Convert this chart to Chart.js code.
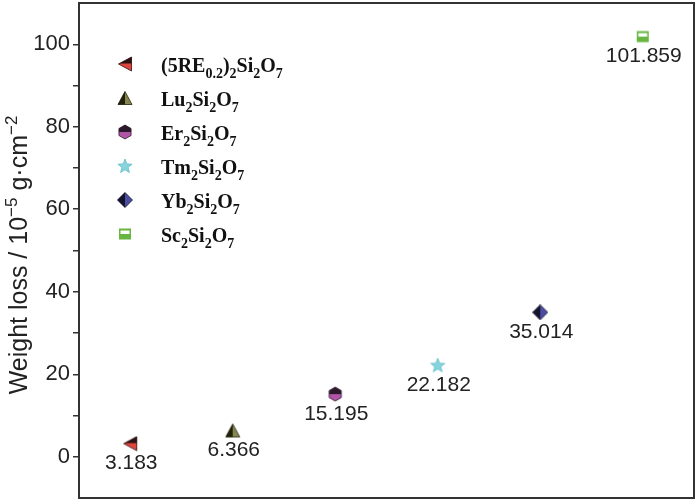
<!DOCTYPE html>
<html>
<head>
<meta charset="utf-8">
<script src="https://cdn.jsdelivr.net/npm/chart.js@4"></script>
<style>
    body { margin: 0; background: #fff; }
    canvas { display: block; }
</style>
</head>
<body>
<canvas id="lossChart" width="700" height="504"></canvas>
<script>
// Weight loss of rare-earth disilicates

const compounds = ['(5RE_{0.2})_2Si_2O_7', 'Lu_2Si_2O_7', 'Er_2Si_2O_7', 'Tm_2Si_2O_7', 'Yb_2Si_2O_7', 'Sc_2Si_2O_7'];
const positions = [1, 2, 3, 4, 5, 6];
const weightLoss = [3.183, 6.366, 15.195, 22.182, 35.014, 101.859];
const valueLabels = ['3.183', '6.366', '15.195', '22.182', '35.014', '101.859'];
const yTicksLabelled = [0, 20, 40, 60, 80, 100];
const yTitle = 'Weight loss / 10^{\u22125} g\u00b7cm^{\u22122}';

const SANS = 'Arial, "Liberation Sans", sans-serif';
const SERIF = '"Times New Roman", "Liberation Serif", serif';

// small canvases used as point styles
function makeIcon(draw) {
    const c = document.createElement('canvas');
    c.width = 16;
    c.height = 16;
    const g = c.getContext('2d');
    draw(g);
    return c;
}

function splitFill(g, path, dark, light, clipRect) {
    path(g);
    g.fillStyle = light;
    g.fill();
    g.save();
    path(g);
    g.clip();
    g.fillStyle = dark;
    g.fillRect(clipRect[0], clipRect[1], clipRect[2], clipRect[3]);
    g.restore();
    path(g);
    g.strokeStyle = dark;
    g.lineWidth = 0.8;
    g.stroke();
}

const icons = [
    makeIcon(g => splitFill(g, c => { c.beginPath(); c.moveTo(1.5, 8); c.lineTo(14.5, 1); c.lineTo(14.5, 15); c.closePath(); },
        '#2a1212', '#e0443c', [0, 0, 16, 7.5])),
    makeIcon(g => splitFill(g, c => { c.beginPath(); c.moveTo(8, 1.5); c.lineTo(15, 14.5); c.lineTo(1, 14.5); c.closePath(); },
        '#22220c', '#868650', [0, 0, 8, 16])),
    makeIcon(g => splitFill(g, c => {
        c.beginPath();
        for (let k = 0; k < 6; k++) {
            const a = Math.PI / 6 + k * Math.PI / 3;
            c.lineTo(8 + 7 * Math.cos(a), 8 + 7 * Math.sin(a));
        }
        c.closePath();
    }, '#2c1a2c', '#b055a8', [0, 0, 16, 8])),
    makeIcon(g => {
        g.beginPath();
        for (let k = 0; k < 10; k++) {
            const r = k % 2 === 0 ? 7.5 : 3.2;
            const a = -Math.PI / 2 + k * Math.PI / 5;
            g.lineTo(8 + r * Math.cos(a), 8.5 + r * Math.sin(a));
        }
        g.closePath();
        g.fillStyle = '#86d4dc';
        g.fill();
        g.strokeStyle = '#62bccb';
        g.lineWidth = 0.8;
        g.stroke();
    }),
    makeIcon(g => splitFill(g, c => { c.beginPath(); c.moveTo(8, 0.5); c.lineTo(15.5, 8); c.lineTo(8, 15.5); c.lineTo(0.5, 8); c.closePath(); },
        '#14142c', '#4c4ca0', [0, 0, 8, 16])),
    makeIcon(g => {
        g.fillStyle = '#66b640';
        g.fillRect(2, 2.5, 12, 11);
        g.fillStyle = '#ffffff';
        g.fillRect(3.5, 4.5, 9, 3.5);
    })
];

// rich text: _x or _{..} subscript, ^x or ^{..} superscript
function parseRich(text) {
    const parts = [];
    const re = /([_^])(\{([^}]*)\}|(.))/g;
    let last = 0, m;
    while ((m = re.exec(text)) !== null) {
        if (m.index > last) parts.push({ t: text.slice(last, m.index), s: 0 });
        parts.push({ t: m[3] !== undefined ? m[3] : m[4], s: m[1] === '_' ? 1 : -1 });
        last = re.lastIndex;
    }
    if (last < text.length) parts.push({ t: text.slice(last), s: 0 });
    return parts;
}

function richWidth(ctx, parts, font, size, k) {
    let w = 0;
    parts.forEach(p => {
        ctx.font = font.replace('{s}', p.s ? Math.round(size * k) : size);
        w += ctx.measureText(p.t).width;
    });
    return w;
}

function drawRich(ctx, parts, x, y, font, size, k) {
    let cx = x;
    parts.forEach(p => {
        ctx.font = font.replace('{s}', p.s ? Math.round(size * k) : size);
        const dy = p.s === 1 ? size * 0.3 : (p.s === -1 ? -size * 0.42 : 0);
        ctx.fillText(p.t, cx, y + dy);
        cx += ctx.measureText(p.t).width;
    });
}

const decorPlugin = {
    id: 'decor',
    afterDatasetsDraw(chart) {
        const ctx = chart.ctx;
        const area = chart.chartArea;

        // value labels under the points
        ctx.save();
        ctx.fillStyle = '#222';
        ctx.font = '21px ' + SANS;
        ctx.textAlign = 'center';
        ctx.textBaseline = 'middle';
        chart.data.datasets.forEach((ds, i) => {
            const pt = chart.getDatasetMeta(i).data[0];
            ctx.fillText(valueLabels[i], pt.x + 1, pt.y + 20);
        });
        ctx.restore();

        // legend
        ctx.save();
        ctx.fillStyle = '#111';
        ctx.textAlign = 'left';
        ctx.textBaseline = 'alphabetic';
        compounds.forEach((name, i) => {
            const y = 64 + i * 34;
            ctx.drawImage(icons[i], 125 - 8, y - 8);
            drawRich(ctx, parseRich(name), 161, y + 8, 'bold {s}px ' + SERIF, 20, 0.68);
        });
        ctx.restore();

        // y title
        ctx.save();
        ctx.fillStyle = '#222';
        ctx.textAlign = 'left';
        ctx.textBaseline = 'alphabetic';
        const parts = parseRich(yTitle);
        const font = '{s}px ' + SANS;
        const w = richWidth(ctx, parts, font, 25, 0.68);
        ctx.translate(27, 255);
        ctx.rotate(-Math.PI / 2);
        drawRich(ctx, parts, -w / 2, 0, font, 25, 0.68);
        ctx.restore();

        // frame
        ctx.save();
        ctx.strokeStyle = '#333';
        ctx.lineWidth = 2;
        ctx.strokeRect(area.left, area.top, area.right - area.left, area.bottom - area.top);
        ctx.restore();
    }
};

const datasets = compounds.map((name, i) => ({
    label: name,
    data: [{ x: positions[i], y: weightLoss[i] }],
    pointStyle: icons[i],
    pointRadius: 7,
    showLine: false
}));

new Chart(document.getElementById('lossChart'), {
    type: 'scatter',
    data: { datasets: datasets },
    options: {
        responsive: false,
        animation: false,
        layout: { autoPadding: false, padding: { top: 3, right: 6, bottom: 6, left: 0 } },
        plugins: {
            legend: { display: false },
            tooltip: { enabled: false }
        },
        scales: {
            x: { type: 'linear', min: 0.5, max: 6.5, display: false },
            y: {
                min: -10,
                max: 110,
                afterFit: scale => {
                    scale.width = 79;
                    scale.paddingTop = 0;
                    scale.paddingBottom = 0;
                },
                ticks: {
                    stepSize: 10,
                    autoSkip: false,
                    padding: 3,
                    color: '#222',
                    font: { size: 22, family: SANS },
                    callback: v => yTicksLabelled.includes(v) ? String(v) : ''
                },
                grid: {
                    drawOnChartArea: false,
                    tickLength: 6,
                    lineWidth: 1.5,
                    color: c => (c.tick && (c.tick.value < 0 || c.tick.value > 100)) ? 'rgba(0,0,0,0)' : '#333'
                },
                border: { display: false }
            }
        }
    },
    plugins: [decorPlugin]
});
</script>
</body>
</html>
